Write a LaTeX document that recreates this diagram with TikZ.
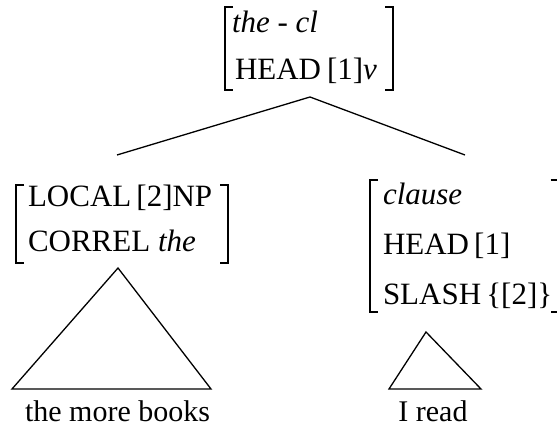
\documentclass[tikz,border=0pt]{standalone}
\usepackage{fontspec}
\setmainfont{Liberation Serif}
\newfontfamily\tnr{Liberation Serif}
\newcommand\avmbr[4]{% left x, right x, top y, bottom y
  \draw (#1+8,#3) -- (#1,#3) -- (#1,#4) -- (#1+8,#4);
  \draw (#2-8,#3) -- (#2,#3) -- (#2,#4) -- (#2-8,#4);}
\begin{document}
\begin{tikzpicture}[x=1pt,y=1pt,line width=1.3pt,
  every node/.style={inner sep=0pt,outer sep=0pt},
  avm/.style={anchor=base west,font=\tnr\fontsize{31}{36}\selectfont},
  leaf/.style={anchor=base,font=\tnr\fontsize{30}{36}\selectfont}]
\useasboundingbox (0,0) rectangle (557,430);
\clip (0,0) rectangle (557,430);
% top AVM
\node[avm] (t1) at (232,397) {\textit{the} - \textit{cl}};
\node[avm] (t2) at (235,350) {HEAD\hspace{6pt}[1]\textit{v}};
\avmbr{225}{393}{423}{340}
\coordinate (top) at (310,333);
% left AVM
\node[avm] (l1) at (28,223) {LOCAL\,[2]NP};
\node[avm] (l2) at (28,178) {CORREL \textit{the}};
\avmbr{16}{228}{245}{167}
\coordinate (lend) at (117,275);
% right AVM
\node[avm] (r1) at (383,225) {\textit{clause}};
\node[avm] (r2) at (383,175) {HEAD\,[1]};
\node[avm] (r3) at (383,125) {SLASH\,\{[2]\}};
\avmbr{370}{558.5}{250}{118}
\coordinate (rend) at (465,275);
% branches
\draw (lend) -- (top) -- (rend);
% triangles
\coordinate (la) at (118,162);
\coordinate (lb) at (12,41);
\coordinate (lc) at (211,41);
\draw (la) -- (lb) -- (lc) -- cycle;
\coordinate (ra) at (426,98);
\coordinate (rb) at (389,41);
\coordinate (rc) at (481,41);
\draw (ra) -- (rb) -- (rc) -- cycle;
% leaves
\node[leaf] (w1) at (117.5,8) {the more books};
\node[leaf] (w2) at (433,8) {I read};
\end{tikzpicture}
\end{document}
